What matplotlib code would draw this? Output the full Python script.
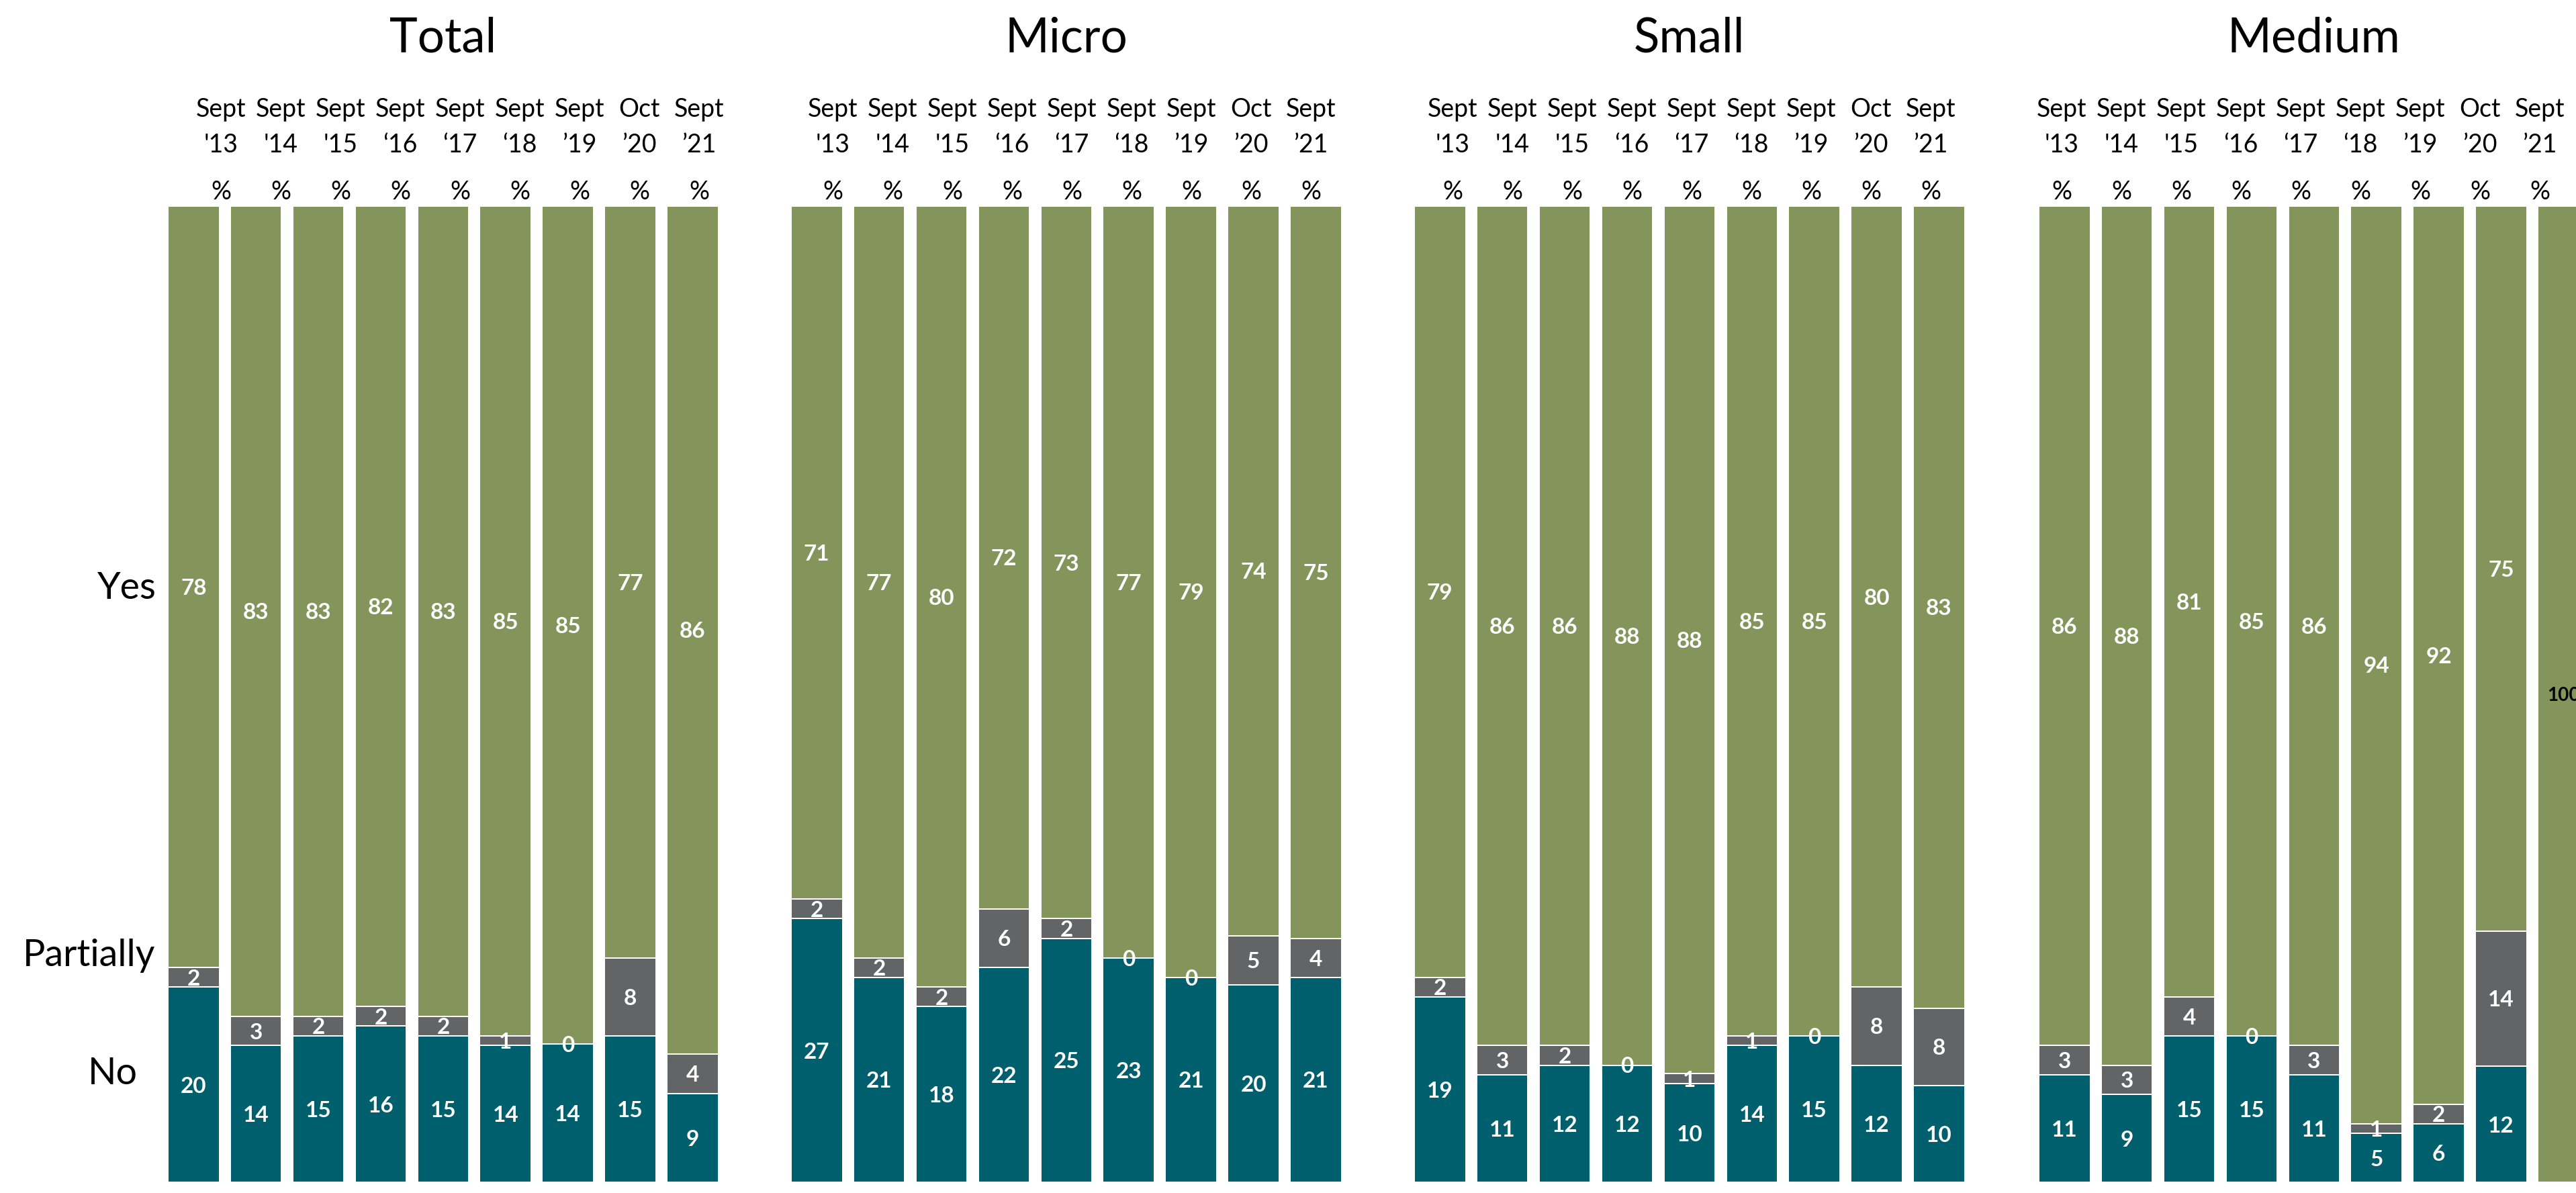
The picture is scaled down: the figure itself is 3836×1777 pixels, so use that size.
import numpy as np
import matplotlib
matplotlib.use("Agg")
import matplotlib.pyplot as plt

plt.rcParams['font.family'] = ['Lato', 'DejaVu Sans']

# Survey waves
wave_month = ["Sept", "Sept", "Sept", "Sept", "Sept", "Sept", "Sept", "Oct", "Sept"]
wave_year = ["'13", "'14", "'15", "\u201816", "\u201817", "\u201818", "\u201919", "\u201920", "\u201921"]

panel_titles = ["Total", "Micro", "Small", "Medium"]
answers = ["Yes", "Partially", "No"]

# values (%), None = not shown
total_no = [20, 14, 15, 16, 15, 14, 14, 15, 9]
total_partly = [2, 3, 2, 2, 2, 1, 0, 8, 4]
total_yes = [78, 83, 83, 82, 83, 85, 85, 77, 86]

micro_no = [27, 21, 18, 22, 25, 23, 21, 20, 21]
micro_partly = [2, 2, 2, 6, 2, 0, 0, 5, 4]
micro_yes = [71, 77, 80, 72, 73, 77, 79, 74, 75]

small_no = [19, 11, 12, 12, 10, 14, 15, 12, 10]
small_partly = [2, 3, 2, 0, 1, 1, 0, 8, 8]
small_yes = [79, 86, 86, 88, 88, 85, 85, 80, 83]

medium_no = [11, 9, 15, 15, 11, 5, 6, 12, None]
medium_partly = [3, 3, 4, 0, 3, 1, 2, 14, None]
medium_yes = [86, 88, 81, 85, 86, 94, 92, 75, 100]

#Colours
c_no = "#005F6D"
c_part = "#636466"
c_yes = "#84955B"

# figure geometry (pixels)
W, H = 3837, 1777
bar_top, bar_bot = 307, 1761
panel_left = [250, 1178, 2106, 3036]
bar_pitch = 92.9
bar_w = 76.6
head_start = [79, 62, 57, 34]
head_pitch = 89.0

data = [(total_no, total_partly, total_yes),
        (micro_no, micro_partly, micro_yes),
        (small_no, small_partly, small_yes),
        (medium_no, medium_partly, medium_yes)]

fig = plt.figure(figsize=(W / 100, H / 100), dpi=100)
fig.patch.set_facecolor("white")

w = bar_w / bar_pitch
ax_w = 8 * bar_pitch + bar_w
lab_size = 24


def seg_label(ax, x, yc, txt, color="white", size=lab_size):
    # baseline shifted down half a cap height so the digits sit centred
    off = size * 100 / 72 * 0.7165 / 2
    ax.annotate(txt, (x, yc), xytext=(0, -off), textcoords="offset pixels",
                ha="center", va="baseline", color=color, fontsize=size,
                fontweight="bold", annotation_clip=False)


for p in range(4):
    no, part, yes = data[p]
    missing = np.array([v is None for v in no])
    no_a = np.array([0 if v is None else v for v in no], dtype=float)
    part_a = np.array([0 if v is None else v for v in part], dtype=float)
    yes_a = np.array(yes, dtype=float)
    tot = no_a + part_a + yes_a
    # 100% stacked
    no_n = no_a / tot * 100
    part_n = part_a / tot * 100
    yes_n = yes_a / tot * 100

    ax = fig.add_axes([panel_left[p] / W, 1 - bar_bot / H, ax_w / W, (bar_bot - bar_top) / H])
    x = np.arange(len(yes))
    ax.bar(x, no_n, width=w, color=c_no, edgecolor="white", linewidth=1.4)
    ax.bar(x, part_n, width=w, bottom=no_n, color=c_part, edgecolor="white", linewidth=1.4)
    ax.bar(x, yes_n, width=w, bottom=no_n + part_n, color=c_yes, edgecolor="white", linewidth=1.4)
    ax.set_xlim(-w / 2, 8 + w / 2)
    ax.set_ylim(0, 100)
    ax.axis("off")

    for i in range(len(yes)):
        if missing[i]:
            seg_label(ax, x[i], no_n[i] + part_n[i] + yes_n[i] / 2, f"{yes[i]}", color="black", size=20)
            continue
        seg_label(ax, x[i], no_n[i] / 2, f"{no[i]}")
        seg_label(ax, x[i], no_n[i] + part_n[i] / 2, f"{part[i]}")
        seg_label(ax, x[i], no_n[i] + part_n[i] + yes_n[i] / 2, f"{yes[i]}")

    # panel title
    fig.text((panel_left[p] + ax_w / 2) / W, 1 - 78 / H, panel_titles[p],
             ha="center", va="baseline", fontsize=51)

    # column headers
    for i in range(len(yes)):
        hx = (panel_left[p] + head_start[p] + i * head_pitch) / W
        fig.text(hx, 1 - 174 / H, wave_month[i], ha="center", va="baseline", fontsize=27)
        fig.text(hx, 1 - 227 / H, wave_year[i], ha="center", va="baseline", fontsize=27)
        fig.text(hx, 1 - 297 / H, "%", ha="center", va="baseline", fontsize=27)

# row labels
fig.text(189 / W, 1 - 892 / H, answers[0], ha="center", va="baseline", fontsize=40)
fig.text(133 / W, 1 - 1439 / H, answers[1], ha="center", va="baseline", fontsize=40)
fig.text(168 / W, 1 - 1615 / H, answers[2], ha="center", va="baseline", fontsize=40)

fig.savefig("out.png", dpi=100)
